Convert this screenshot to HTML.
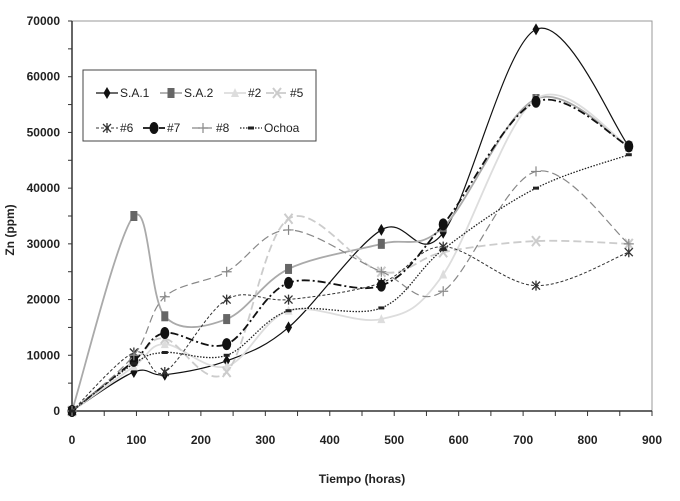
<!DOCTYPE html>
<html><head><meta charset="utf-8"><style>
body{margin:0;background:#fff;font-family:"Liberation Sans",Arial,sans-serif}
svg text{font-family:"Liberation Sans",Arial,sans-serif;font-weight:bold;fill:#222}
</style></head><body>
<svg id="c" width="680" height="496" viewBox="0 0 680 496" xmlns="http://www.w3.org/2000/svg"></svg>
<script>
const xs = [0,96,144,240,336,480,576,720,864];
const names = ["S.A.1","S.A.2","#2","#5","#6","#7","#8","Ochoa"];
const sa1 = [0,7000,6500,9000,15000,32500,32000,68500,47500];
const sa2 = [0,35000,17000,16500,25500,30000,33000,56000,47500];
const s2  = [0,8000,12000,8000,18000,16500,24500,56000,47500];
const s5  = [0,9000,13000,7000,34500,25000,28500,30500,30000];
const s6  = [0,10500,7000,20000,20000,23000,29500,22500,28500];
const s7  = [0,9000,14000,12000,23000,22500,33500,55500,47500];
const s8  = [0,10000,20500,25000,32500,25000,21500,43000,30000];
const och = [0,8500,10500,10000,18000,18500,29000,40000,46000];
const xTicks = [0,100,200,300,400,500,600,700,800,900];
const yTicks = [0,10000,20000,30000,40000,50000,60000,70000];

const L=72,R=652,T=21,B=411;
const X=v=>L+(v/900)*(R-L);
const Y=v=>B-(v/70000)*(B-T);
const svg=document.getElementById('c');
const NS="http://www.w3.org/2000/svg";
function mk(t,a,p){const e=document.createElementNS(NS,t);for(const k in a)e.setAttribute(k,a[k]);(p||svg).appendChild(e);return e;}

const frame=mk('path',{d:`M${L},${T}H${R}V${B}H${L}Z`,fill:'none',stroke:'#999','stroke-width':1});


const xa=mk('line',{x1:L,y1:B,x2:R,y2:B,stroke:'#333','stroke-width':1.5});


const ya=mk('line',{x1:L,y1:T,x2:L,y2:B,stroke:'#333','stroke-width':1.5});


for(let v=0;v<=900;v+=50){mk('line',{x1:X(v),y1:B,x2:X(v),y2:B+5,stroke:'#333'});}
for(let v=0;v<=70000;v+=5000){mk('line',{x1:L-4,y1:Y(v),x2:L,y2:Y(v),stroke:'#333'});}
xTicks.forEach(v=>{const t=mk('text',{x:X(v),y:444,'text-anchor':'middle','font-size':12});t.textContent=v;

});
yTicks.forEach(v=>{const t=mk('text',{x:L-12,y:Y(v)+4,'text-anchor':'end','font-size':12});t.textContent=v;

});
const xt=mk('text',{x:362,y:483,'text-anchor':'middle','font-size':12});xt.textContent='Tiempo (horas)';


const yt=mk('text',{x:0,y:0,'text-anchor':'middle','font-size':12,transform:'translate(14,230) rotate(-90)'});yt.textContent='Zn (ppm)';



function smooth(vals){
  const p=xs.map((x,i)=>[X(x),Y(vals[i])]);
  let d=`M${p[0][0]},${p[0][1]}`;
  for(let i=0;i<p.length-1;i++){
    const p0=p[Math.max(0,i-1)],p1=p[i],p2=p[i+1],p3=p[Math.min(p.length-1,i+2)];
    const c1=[p1[0]+(p2[0]-p0[0])/6,p1[1]+(p2[1]-p0[1])/6];
    const c2=[p2[0]-(p3[0]-p1[0])/6,p2[1]-(p3[1]-p1[1])/6];
    d+=`C${c1[0]},${c1[1]} ${c2[0]},${c2[1]} ${p2[0]},${p2[1]}`;
  }
  return d;
}
function marker(type,x,y,col,g){
  if(type==='diamond')mk('path',{d:`M${x},${y-6}L${x+3.5},${y}L${x},${y+6}L${x-3.5},${y}Z`,fill:col},g);
  else if(type==='square')mk('rect',{x:x-3.5,y:y-5,width:7,height:10,fill:col},g);
  else if(type==='tri')mk('path',{d:`M${x},${y-5}L${x+4},${y+4}L${x-4},${y+4}Z`,fill:col},g);
  else if(type==='x'){mk('path',{d:`M${x-4},${y-5}L${x+4},${y+5}M${x+4},${y-5}L${x-4},${y+5}`,stroke:col,'stroke-width':2},g);}
  else if(type==='star'){mk('path',{d:`M${x-4},${y-4}L${x+4},${y+4}M${x+4},${y-4}L${x-4},${y+4}M${x},${y-5}V${y+5}`,stroke:col,'stroke-width':1.3},g);}
  else if(type==='circle')mk('ellipse',{cx:x,cy:y,rx:4.5,ry:6,fill:col},g);
  else if(type==='plus')mk('path',{d:`M${x-5},${y}H${x+5}M${x},${y-5}V${y+5}`,stroke:col,'stroke-width':1.2},g);
  else if(type==='dash')mk('rect',{x:x-3,y:y-1.5,width:6,height:3,fill:col},g);
}
const series=[
 {n:'S.A.1',v:sa1,c:'#111',w:1.2,da:'',m:'diamond',id:'series-sa1'},
 {n:'S.A.2',v:sa2,c:'#aaa',w:1.8,da:'',m:'square',mc:'#666',id:'series-sa2'},
 {n:'#2',v:s2,c:'#ddd',w:1.8,da:'',m:'tri',id:'series-2'},
 {n:'#5',v:s5,c:'#ccc',w:1.8,da:'8,4',m:'x',id:'series-5'},
 {n:'#6',v:s6,c:'#333',w:1,da:'3,2',m:'star',id:'series-6'},
 {n:'#7',v:s7,c:'#111',w:1.8,da:'8,3,2,3',m:'circle',id:'series-7'},
 {n:'#8',v:s8,c:'#888',w:1.2,da:'8,4',m:'plus',id:'series-8'},
 {n:'Ochoa',v:och,c:'#222',w:1.3,da:'1.5,1.5',m:'dash',id:'series-ochoa'}
];
series.forEach(s=>{
  const g=mk('g',{});
  
  
  mk('path',{d:smooth(s.v),fill:'none',stroke:s.c,'stroke-width':s.w,'stroke-dasharray':s.da},g);
  s.v.forEach((v,i)=>marker(s.m,X(xs[i]),Y(v),s.mc||s.c,g));
});

// legend
const lg=mk('g',{});


mk('rect',{x:83,y:70,width:233,height:71,fill:'#fff',stroke:'#444','stroke-width':1},lg);
const pos=[[95,100],[162,100],[223,100],[266,100],[97,143-2],[148,141],[194,141],[240,141]];
const lx=[[96,100],[160,100],[224,100],[266,100],[96,141],[143,141],[192,141],[240,141]];
series.forEach((s,i)=>{
  const e=mk('g',{},lg);
  
  
  const x0=lx[i][0],y0=i<4?97:132;
  mk('line',{x1:x0,y1:y0-4,x2:x0+22,y2:y0-4,stroke:s.c,'stroke-width':s.w,'stroke-dasharray':s.da},e);
  marker(s.m,x0+11,y0-4,s.mc||s.c,e);
  const t=mk('text',{x:x0+24,y:y0,'font-size':12,'font-weight':'normal'},e);
  t.style.fontWeight='normal';t.textContent=s.n;
});
</script>
</body></html>
